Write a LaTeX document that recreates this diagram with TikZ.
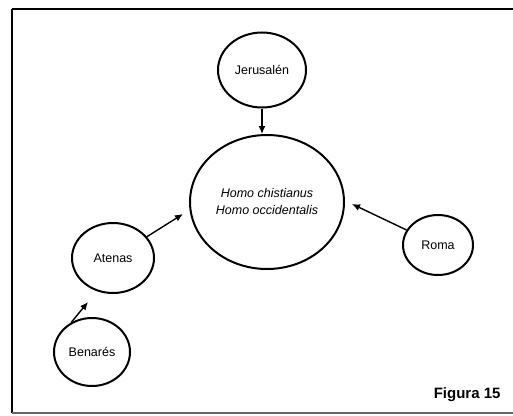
\documentclass[tikz,border=0pt]{standalone}
\usepackage{fontspec}
\setmainfont{Liberation Sans}
\usetikzlibrary{arrows.meta,shapes.geometric}
\begin{document}
\begin{tikzpicture}[x=1pt,y=-1pt,
  place/.style={draw,line width=2pt,ellipse,inner sep=0pt,font=\fontsize{12.5}{14}\selectfont},
  conn/.style={line width=1.4pt,-{Latex[length=8pt,width=7pt]}},
  frame/.style={line width=2.2pt}]
\useasboundingbox (0,0) rectangle (513,415);
\fill[white] (0,0) rectangle (513,415);
\draw[frame] (12,9) -- (515,9);
\draw[frame] (12,9) -- (12,413);
\draw[line width=1.2pt,black!60] (12,413) -- (515,413);
\node[place,minimum width=154pt,minimum height=134pt,font=\fontsize{12.5}{17}\selectfont\itshape,align=center] (c) at (267,202) {Homo chistianus\\Homo occidentalis};
\node[place,minimum width=88pt,minimum height=75pt] (j) at (262,70) {Jerusalén};
\node[place,minimum width=82pt,minimum height=70pt] (a) at (113,258) {Atenas};
\node[place,minimum width=70pt,minimum height=60pt] (r) at (438,245) {Roma};
\node[place,minimum width=76pt,minimum height=68pt] (b) at (92,352) {Benarés};
\coordinate (jt) at (262,134);
\coordinate (at) at (183,214);
\coordinate (rt) at (352,204);
\coordinate (bt) at (88,302);
\draw[conn] (j) -- (jt);
\draw[conn] (a) -- (at);
\draw[conn] (r) -- (rt);
\draw[conn] (b.125) -- (bt);
\node[font=\fontsize{15}{17}\selectfont\bfseries,anchor=east] (fig) at (504,395) {Figura 15};
\end{tikzpicture}
\end{document}
